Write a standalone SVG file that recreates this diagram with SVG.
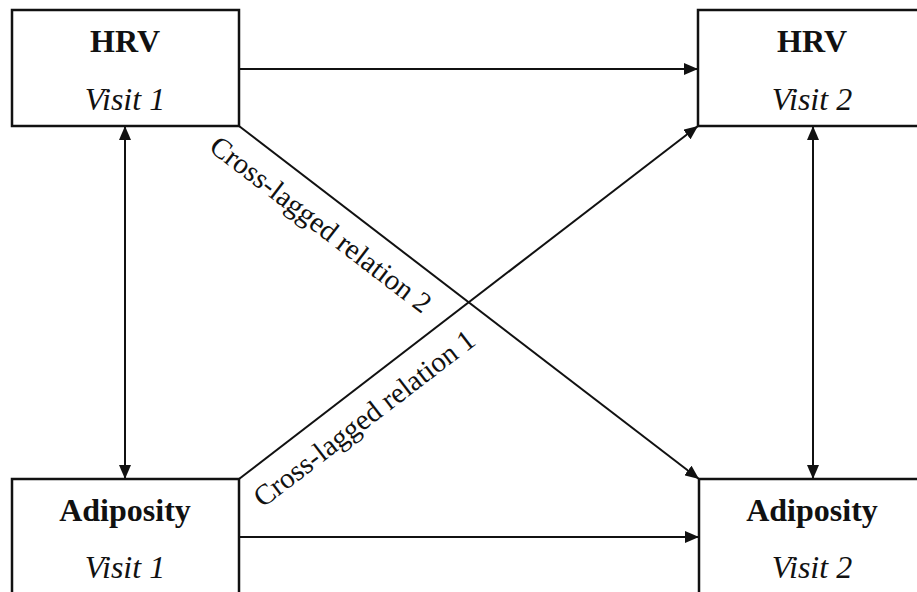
<svg xmlns="http://www.w3.org/2000/svg" width="917" height="592" viewBox="0 0 917 592">
<style>
.box{fill:#fff;stroke:#111;stroke-width:2.5}
.t{font-family:"Liberation Serif","Times New Roman",serif;fill:#111;text-anchor:middle}
.b{font-weight:bold;font-size:32px}
.i{font-style:italic;font-size:32px}
.lbl{font-size:29px}
.c{stroke:#111;stroke-width:2;fill:none}
</style>
<defs>
<marker id="ah" markerUnits="userSpaceOnUse" markerWidth="14" markerHeight="12" refX="14" refY="6" orient="auto-start-reverse">
<path d="M0,0 L14,6 L0,12 Z" fill="#111"/>
</marker>
</defs>
<rect width="917" height="592" fill="#fff"/>
<g id="connectors">
<line class="c" x1="239" y1="69" x2="698" y2="69" marker-end="url(#ah)"/>
<line class="c" x1="239" y1="537" x2="699" y2="537" marker-end="url(#ah)"/>
<line class="c" x1="125" y1="126" x2="125" y2="479" marker-start="url(#ah)" marker-end="url(#ah)"/>
<line class="c" x1="813" y1="126" x2="813" y2="479" marker-start="url(#ah)" marker-end="url(#ah)"/>
<line class="c" x1="239" y1="126" x2="699" y2="479" marker-end="url(#ah)"/>
<line class="c" x1="239" y1="479" x2="698" y2="126" marker-end="url(#ah)"/>
<text class="t lbl" transform="translate(315,232) rotate(37.5)">Cross-lagged relation 2</text>
<text class="t lbl" transform="translate(370,426) rotate(-37.5)">Cross-lagged relation 1</text>
</g>
<g id="hrv1">
<rect class="box" x="12" y="10" width="227" height="116"/>
<text class="t b" x="125" y="52">HRV</text>
<text class="t i" x="125" y="110">Visit 1</text>
</g>
<g id="hrv2">
<rect class="box" x="698" y="10" width="228" height="116"/>
<text class="t b" x="812" y="52">HRV</text>
<text class="t i" x="812" y="110">Visit 2</text>
</g>
<g id="adip1">
<rect class="box" x="12" y="479" width="227" height="125"/>
<text class="t b" x="125" y="521">Adiposity</text>
<text class="t i" x="125" y="578">Visit 1</text>
</g>
<g id="adip2">
<rect class="box" x="699" y="479" width="228" height="125"/>
<text class="t b" x="812" y="521">Adiposity</text>
<text class="t i" x="812" y="578">Visit 2</text>
</g>
</svg>
